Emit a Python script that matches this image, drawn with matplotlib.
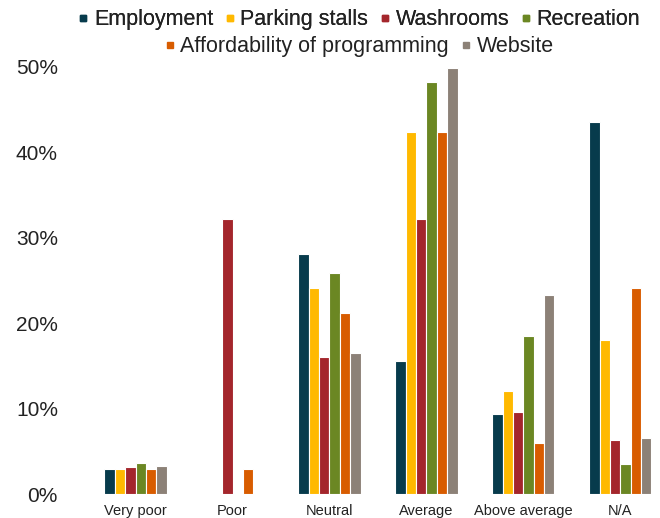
import matplotlib
matplotlib.use("Agg")
import matplotlib.pyplot as plt
from matplotlib.lines import Line2D
from matplotlib.ticker import PercentFormatter
import numpy as np

plt.rcParams['font.family'] = ['Liberation Sans', 'DejaVu Sans']

categories = ["Very poor", "Poor", "Neutral", "Average", "Above average", "N/A"]

employment = [3.0, 0.0, 28.1, 15.6, 9.4, 43.6]
parking_stalls = [2.95, 0.0, 24.2, 42.4, 12.1, 18.1]
washrooms = [3.2, 32.2, 16.1, 32.2, 9.7, 6.4]
recreation = [3.7, 0.0, 25.9, 48.2, 18.5, 3.6]
affordability = [3.0, 3.0, 21.2, 42.4, 6.0, 24.2]
website = [3.3, 0.0, 16.6, 49.9, 23.3, 6.6]

series = [
    ("Employment", employment, "#073b4c"),
    ("Parking stalls", parking_stalls, "#ffb900"),
    ("Washrooms", washrooms, "#a4262c"),
    ("Recreation", recreation, "#6b8723"),
    ("Affordability of programming", affordability, "#d85c00"),
    ("Website", website, "#8c8177"),
]

fig = plt.figure(figsize=(6.6, 5.18), dpi=100)
ax = fig.add_axes([0.132, 0.0454, 0.868, 0.8253])

x = np.arange(len(categories))
bw = 0.107
for i, (name, vals, col) in enumerate(series):
    ax.bar(x + (i - 2.5) * bw, vals, bw, color=col, edgecolor="white", linewidth=0.8)

ax.set_xlim(-0.5, 5.41)
ax.set_ylim(0, 50)
ax.set_yticks([0, 10, 20, 30, 40, 50])
ax.yaxis.set_major_formatter(PercentFormatter(decimals=0))
ax.set_xticks(x)
ax.set_xticklabels(categories, fontsize=10.5)
ax.tick_params(axis="y", labelsize=15, length=0, pad=21, labelcolor="#222222")
ax.tick_params(axis="x", length=0, pad=7, labelcolor="#222222")
for s in ax.spines.values():
    s.set_visible(False)

def handles(items):
    return [Line2D([], [], marker="s", linestyle="none", markersize=5,
                   color=c, label=n) for n, _, c in items]

opts = dict(loc="center", frameon=False, fontsize=15.5, handlelength=0.6,
            handletextpad=0.2, columnspacing=0.47, borderaxespad=0, borderpad=0,
            labelcolor="#222222")
leg1 = fig.legend(handles=handles(series[:4]), bbox_to_anchor=(0.543, 0.962), ncol=4, **opts)
leg2 = fig.legend(handles=handles(series[4:]), bbox_to_anchor=(0.543, 0.910), ncol=2, **opts)
fig.add_artist(leg1)

fig.savefig("out.png", dpi=100)
